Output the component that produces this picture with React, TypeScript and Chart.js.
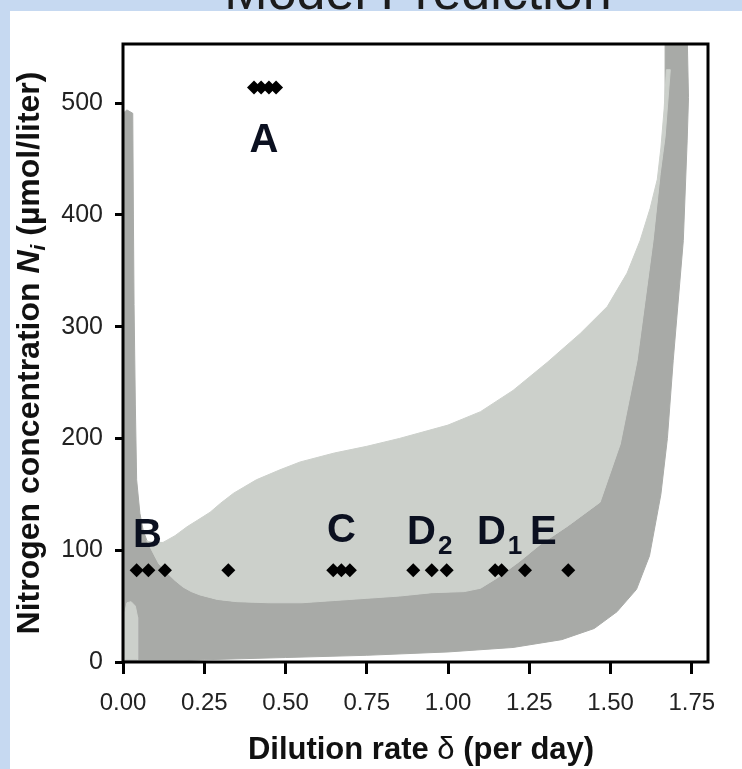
import React, { useEffect, useRef } from "react";
import { Chart, registerables } from "chart.js";

Chart.register(...registerables);

const FONT = "'Liberation Sans', Arial, Helvetica, sans-serif";

// axis ranges and ticks
const xMin = 0;
const xMax = 1.8;
const yMin = 0;
const yMax = 553;
const xTickValues = [0, 0.25, 0.5, 0.75, 1.0, 1.25, 1.5, 1.75];
const yTickValues = [0, 100, 200, 300, 400, 500];

// dark-gray prediction band: left vertical strip
const darkStripX = [0, 0, 0.012, 0.03, 0.032, 0.034, 0.038, 0.042, 0.052, 0.062];
const darkStripY = [0, 491, 494, 491, 400, 320, 230, 163, 133, 118];

// boundary between dark band (below) and light band (above)
const interfaceX = [0.073, 0.092, 0.11, 0.135, 0.16, 0.185, 0.21, 0.237, 0.29, 0.35, 0.45, 0.55, 0.65, 0.75, 0.85, 0.95, 1.05, 1.1, 1.15, 1.22, 1.283, 1.37, 1.468, 1.53, 1.582, 1.631, 1.653, 1.668];
const interfaceY = [109, 98, 88, 80, 73, 67, 63, 60, 56, 54, 53, 53, 55, 57, 59, 62, 63, 66, 75, 90, 105, 122, 143, 195, 270, 377, 437, 470];

// dark band: top and outer (right / bottom) edge
const darkOuterX = [1.668, 1.736, 1.74, 1.736, 1.724, 1.693, 1.675, 1.655, 1.62, 1.58, 1.52, 1.45, 1.35, 1.2, 1.0, 0.75, 0.5, 0.25, 0.1];
const darkOuterY = [560, 560, 505, 467, 377, 270, 200, 150, 95, 65, 45, 30, 20, 13, 9, 6, 4, 2, 0];

// light-gray band: upper edge
const lightTopX = [0.073, 0.1, 0.123, 0.16, 0.197, 0.23, 0.268, 0.3, 0.34, 0.41, 0.483, 0.545, 0.65, 0.75, 0.85, 1.0, 1.1, 1.2, 1.305, 1.407, 1.49, 1.551, 1.591, 1.622, 1.644, 1.655, 1.665, 1.672, 1.684];
const lightTopY = [108, 107, 107, 113, 121, 127, 134, 142, 151, 163, 172, 179, 187, 193, 200, 212, 224, 243, 268, 294, 318, 348, 377, 406, 432, 460, 495, 530, 530];

// small light strip at bottom-left
const lightStripX = [0.006, 0.006, 0.012, 0.025, 0.038, 0.045, 0.045];
const lightStripY = [2, 45, 53, 54, 50, 40, 2];

// observed points
const obsX = [0.042, 0.078, 0.129, 0.324, 0.647, 0.672, 0.698, 0.893, 0.95, 0.996, 1.145, 1.165, 1.237, 1.37];
const obsY = [82, 82, 82, 82, 82, 82, 82, 82, 82, 82, 82, 82, 82, 82];
const obsAX = [0.403, 0.425, 0.449, 0.471];
const obsAY = [514, 514, 514, 514];

// annotation letters (anchor: left edge, baseline, in data units)
const labelTexts = ["A", "B", "C", "D", "D", "E"];
const labelSubs = ["", "", "", "2", "1", ""];
const labelX = [0.389, 0.031, 0.628, 0.874, 1.089, 1.252];
const labelY = [456, 103, 107, 106, 106, 106];

const DARK = "#a8aaa7";
const LIGHT = "#ccd0cb";

type Seg = { text: string; font: string; dy?: number };

function drawSegs(ctx: CanvasRenderingContext2D, segs: Seg[], cx: number, baseY: number) {
  let total = 0;
  for (const s of segs) {
    ctx.font = s.font;
    total += ctx.measureText(s.text).width;
  }
  let x = cx - total / 2;
  ctx.textAlign = "left";
  ctx.textBaseline = "alphabetic";
  for (const s of segs) {
    ctx.font = s.font;
    ctx.fillText(s.text, x, baseY + (s.dy || 0));
    x += ctx.measureText(s.text).width;
  }
}

export default function App() {
  const ref = useRef<HTMLCanvasElement>(null);

  useEffect(() => {
    const canvas = ref.current;
    if (!canvas) return;
    const pts = (xs: number[], ys: number[]) => xs.map((x, i) => ({ x, y: ys[i] }));
    const darkPoly = [...pts(darkStripX, darkStripY), ...pts(interfaceX, interfaceY), ...pts(darkOuterX, darkOuterY)];
    const lightPoly = [...pts(lightTopX, lightTopY), ...pts(interfaceX, interfaceY).reverse()];
    const lightStrip = pts(lightStripX, lightStripY);

    const polyDs = (label: string, data: any[], color: string) => ({
      label,
      data,
      showLine: true,
      fill: "shape",
      backgroundColor: color,
      borderColor: color,
      borderWidth: 1,
      pointRadius: 0,
      tension: 0,
    });

    const overlay = {
      id: "overlay",
      afterDatasetsDraw(chart: any) {
        const { ctx, chartArea: a, scales } = chart;
        ctx.save();
        ctx.strokeStyle = "#000";
        ctx.lineWidth = 3;
        ctx.strokeRect(a.left, a.top, a.right - a.left, a.bottom - a.top);
        ctx.fillStyle = "#0b1020";
        ctx.textAlign = "left";
        ctx.textBaseline = "alphabetic";
        for (let i = 0; i < labelTexts.length; i++) {
          const px = scales.x.getPixelForValue(labelX[i]);
          const py = scales.y.getPixelForValue(labelY[i]);
          ctx.font = `bold 40px ${FONT}`;
          ctx.fillText(labelTexts[i], px, py);
          if (labelSubs[i]) {
            const w = ctx.measureText(labelTexts[i]).width;
            ctx.font = `bold 26px ${FONT}`;
            ctx.fillText(labelSubs[i], px + w + 2, py + 10);
          }
        }
        ctx.restore();
      },
      afterDraw(chart: any) {
        const { ctx, chartArea: a } = chart;
        ctx.save();
        ctx.fillStyle = "#111";
        drawSegs(
          ctx,
          [
            { text: "Dilution rate ", font: `bold 31px ${FONT}` },
            { text: "\u03b4", font: `31px ${FONT}` },
            { text: " (per day)", font: `bold 31px ${FONT}` },
          ],
          421,
          759
        );
        ctx.translate(39, (a.top + a.bottom) / 2);
        ctx.rotate(-Math.PI / 2);
        drawSegs(
          ctx,
          [
            { text: "Nitrogen concentration ", font: `bold 32px ${FONT}` },
            { text: "N", font: `italic bold 32px ${FONT}` },
            { text: "i", font: `italic bold 21px ${FONT}`, dy: 6 },
            { text: " (\u00b5mol/liter)", font: `bold 32px ${FONT}` },
          ],
          0,
          0
        );
        ctx.restore();
      },
    };

    const chart = new Chart(canvas, {
      type: "scatter",
      data: {
        datasets: [
          {
            label: "A",
            data: pts(obsAX, obsAY),
            pointStyle: "rectRot",
            pointRadius: 7,
            backgroundColor: "#000",
            borderColor: "#000",
            borderWidth: 0,
          },
          {
            label: "Observed",
            data: pts(obsX, obsY),
            pointStyle: "rectRot",
            pointRadius: 7,
            backgroundColor: "#000",
            borderColor: "#000",
            borderWidth: 0,
          },
          polyDs("light strip", lightStrip, LIGHT),
          polyDs("light band", lightPoly, LIGHT),
          polyDs("dark band", darkPoly, DARK),
        ] as any,
      },
      options: {
        animation: false,
        responsive: false,
        events: [],
        layout: { padding: { top: 44, right: 34, left: 0, bottom: 0 } },
        plugins: { legend: { display: false }, tooltip: { enabled: false }, title: { display: false } },
        scales: {
          x: {
            type: "linear",
            min: xMin,
            max: xMax,
            afterBuildTicks: (s: any) => {
              s.ticks = xTickValues.map((v) => ({ value: v }));
            },
            afterFit: (s: any) => {
              s.height = 107;
            },
            grid: { drawOnChartArea: false, drawTicks: true, tickLength: 12, tickWidth: 3, tickColor: "#000", color: "#000" },
            border: { display: false },
            ticks: {
              font: { family: FONT, size: 24 },
              color: "#222",
              padding: 15,
              maxRotation: 0,
              autoSkip: false,
              callback: (v: any) => Number(v).toFixed(2),
            },
          },
          y: {
            type: "linear",
            min: yMin,
            max: yMax,
            afterBuildTicks: (s: any) => {
              s.ticks = yTickValues.map((v) => ({ value: v }));
            },
            afterFit: (s: any) => {
              s.width = 123;
            },
            grid: { drawOnChartArea: false, drawTicks: true, tickLength: 8, tickWidth: 3, tickColor: "#000", color: "#000" },
            border: { display: false },
            ticks: {
              font: { family: FONT, size: 25 },
              color: "#222",
              padding: 12,
              callback: (v: any) => String(v),
            },
          },
        },
      } as any,
      plugins: [overlay],
    });
    return () => chart.destroy();
  }, []);

  return (
    <div
      style={{
        position: "fixed",
        left: 0,
        top: 0,
        width: 742,
        height: 769,
        background: "#c6d9f1",
        overflow: "hidden",
      }}
    >
      <div style={{ position: "absolute", left: 10, top: 11, right: 0, bottom: 0, background: "#fff" }} />
      <div
        style={{
          position: "absolute",
          left: 418,
          top: -35,
          transform: "translateX(-50%)",
          whiteSpace: "nowrap",
          fontFamily: FONT,
          fontSize: 52,
          lineHeight: "52px",
          color: "#1c1c1c",
        }}
      >
        Model Prediction
      </div>
      <canvas ref={ref} width={742} height={769} style={{ position: "absolute", left: 0, top: 0, width: 742, height: 769 }} />
    </div>
  );
}
